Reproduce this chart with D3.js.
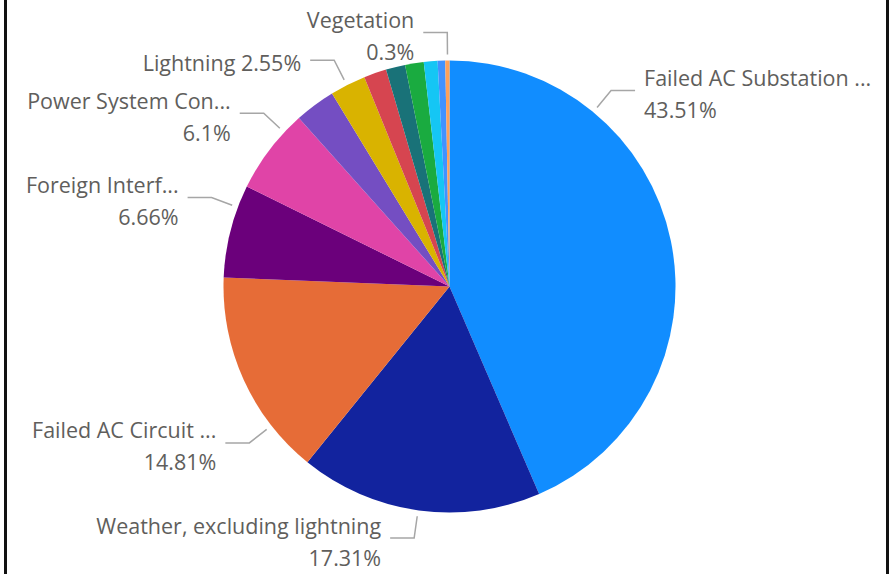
<!DOCTYPE html>
<html>
<head>
<meta charset="utf-8">
<script src="https://cdn.jsdelivr.net/npm/d3@7"></script>
<style>
  html, body { margin: 0; padding: 0; background: #fff; }
  #container { width: 895px; height: 574px; }
  text { font-family: "Segoe UI", "Open Sans", sans-serif; }
</style>
</head>
<body>
<div id="container"></div>
<script>
//chart size
const w = 895
const h = 574

//data - share of outages by cause (%)
const categories = ["Failed AC Substation ...", "Weather, excluding lightning", "Failed AC Circuit ...",
    "Foreign Interf...", "Power System Con...", "Human Error", "Lightning", "Unknown", "Fire",
    "Other", "Environmental", "Contamination", "Vegetation"]
const shares = [43.51, 17.31, 14.81, 6.66, 6.1, 2.91, 2.55, 1.62, 1.38, 1.33, 0.98, 0.54, 0.3]
const colors = ["#118DFF", "#12239E", "#E66C37", "#6B007B", "#E044A7", "#744EC2", "#D9B300",
    "#D64550", "#197278", "#1AAB40", "#15C6F4", "#4092FF", "#FFA058"]

//labelled slices: where the leader line leaves the pie (degrees, clockwise from 12 o'clock)
const labelAnchors = {
    "Failed AC Substation ...": 39.5,
    "Weather, excluding lightning": 188,
    "Failed AC Circuit ...": 232,
    "Foreign Interf...": 290.5,
    "Power System Con...": 313,
    "Lightning": 333,
    "Vegetation": 359.5
}
const oneLine = ["Lightning"]

const cx = 449.5
const cy = 286.5
const radius = 226
const fontSize = 21.5

const pie = d3.pie().sort(null)
const arc = d3.arc().innerRadius(0).outerRadius(radius)
const color = d3.scaleOrdinal().domain(categories).range(colors)

const svg = d3.select('#container')
    .append('svg')
    .attr('width', w)
    .attr('height', h)

//frame, only the side edges show
svg.append('line').attr('x1', 5.5).attr('x2', 5.5).attr('y1', 0).attr('y2', h)
    .attr('stroke', '#111').attr('stroke-width', 3)
svg.append('line').attr('x1', 887.5).attr('x2', 887.5).attr('y1', 0).attr('y2', h)
    .attr('stroke', '#111').attr('stroke-width', 3)

const g = svg.append('g')
    .attr('transform', 'translate(' + cx + ',' + cy + ')')

const slices = pie(shares).map(function(d, i) {
    d.name = categories[i]
    return d
})

g.selectAll('path.slice')
    .data(slices)
    .enter()
    .append('path')
    .attr('class', 'slice')
    .attr('fill', d => color(d.name))
    .attr('d', arc)

//labels with leader lines
const polar = function(deg, r) {
    const a = deg * Math.PI / 180
    return [Math.sin(a) * r, -Math.cos(a) * r]
}

const labelled = slices.filter(d => labelAnchors[d.name] !== undefined)

const labels = g.selectAll('g.label')
    .data(labelled)
    .enter()
    .append('g')
    .attr('class', 'label')

labels.each(function(d) {
    const sel = d3.select(this)
    const deg = labelAnchors[d.name]
    const right = Math.sin(deg * Math.PI / 180) > 0
    const dir = right ? 1 : -1
    const p0 = polar(deg, radius + 6)
    const p1 = polar(deg, radius + 28)
    const p2 = [p1[0] + dir * 24, p1[1]]
    sel.append('polyline')
        .attr('points', [p0, p1, p2].map(p => p.join(',')).join(' '))
        .attr('fill', 'none')
        .attr('stroke', '#a6a6a6')
        .attr('stroke-width', 1.5)

    const tx = p2[0] + dir * 9
    const pct = d.value + '%'
    const anchor = right ? 'start' : 'end'
    const lines = oneLine.indexOf(d.name) >= 0 ?
        [[d.name + ' ' + pct, 3]] :
        [[d.name, -12], [pct, 20]]
    lines.forEach(function(l) {
        sel.append('text')
            .attr('x', tx).attr('y', p1[1] + l[1])
            .attr('dy', '0.35em')
            .attr('text-anchor', anchor)
            .attr('fill', '#605E5C')
            .attr('font-size', fontSize)
            .text(l[0])
    })
})
</script>
</body>
</html>
